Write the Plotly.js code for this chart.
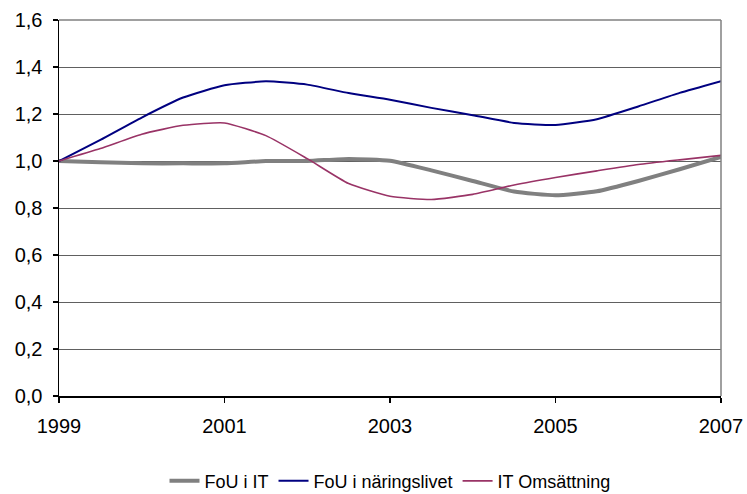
<!DOCTYPE html>
<html>
<head>
<meta charset="utf-8">
<script src="https://cdn.plot.ly/plotly-3.0.1.min.js"></script>
<style>
  html, body { margin: 0; padding: 0; background: #fff; }
  #chart { width: 747px; height: 494px; }
</style>
</head>
<body>
<div id="chart"></div>
<script>
// Index (1999 = 1,0), halvårsvärden
const ar = [1999, 1999.5, 2000, 2000.5, 2001, 2001.5, 2002, 2002.5, 2003,
            2003.5, 2004, 2004.5, 2005, 2005.5, 2006, 2006.5, 2007];

const fouIT = [1.00, 0.995, 0.99, 0.99, 0.99, 1.00, 1.00, 1.009, 1.001,
               0.96, 0.915, 0.87, 0.854, 0.871, 0.915, 0.965, 1.017];

const fouNaringsliv = [1.00, 1.09, 1.185, 1.27, 1.322, 1.339, 1.325, 1.289, 1.261,
                       1.226, 1.195, 1.162, 1.153, 1.178, 1.232, 1.29, 1.34];

const itOmsattning = [1.00, 1.053, 1.114, 1.152, 1.162, 1.108, 1.010, 0.904, 0.850,
                      0.836, 0.858, 0.898, 0.930, 0.958, 0.985, 1.005, 1.024];

const serieNamn = ["FoU i IT", "FoU i näringslivet", "IT Omsättning"];
const aretTicks = [1999, 2001, 2003, 2005, 2007];

const font = "Liberation Sans, Arial, sans-serif";

function serie(y, namn, farg, bredd) {
  return {
    type: "scatter", mode: "lines", name: namn,
    x: ar, y: y,
    line: { color: farg, width: bredd, shape: "spline", smoothing: 0.5 },
    hoverinfo: "skip",
  };
}

const data = [
  serie(fouIT, serieNamn[0], "#808080", 4),
  serie(fouNaringsliv, serieNamn[1], "#000080", 2),
  serie(itOmsattning, serieNamn[2], "#993366", 1.6),
];

const layout = {
  width: 747, height: 494,
  margin: { l: 59, r: 26, t: 20, b: 98 },
  paper_bgcolor: "#fff", plot_bgcolor: "#fff",
  separators: ",.",
  font: { family: font, size: 20, color: "#000" },
  showlegend: true,
  legend: {
    orientation: "h", xref: "paper", x: 0.5, xanchor: "center",
    yref: "container", y: 0.026, yanchor: "middle",
    font: { family: font, size: 18, color: "#000" },
    itemwidth: 30, tracegroupgap: 0,
  },
  xaxis: {
    range: [1999, 2007],
    tickvals: aretTicks,
    ticktext: aretTicks.map(String),
    ticks: "outside", ticklen: 5, tickwidth: 1.5, tickcolor: "#000",
    ticklabelstandoff: 6,
    showline: true, linecolor: "#000", linewidth: 1.5,
    showgrid: false, zeroline: false, fixedrange: true,
  },
  yaxis: {
    range: [0, 1.6], dtick: 0.2, tickformat: ".1f",
    ticks: "outside", ticklen: 5, tickwidth: 1.5, tickcolor: "#000",
    ticklabelstandoff: 6,
    showline: true, linecolor: "#000", linewidth: 1.5,
    showgrid: true, gridcolor: "#606060", gridwidth: 1,
    zeroline: false, fixedrange: true,
  },
  shapes: [
    { type: "line", xref: "paper", yref: "paper", x0: 0, x1: 1, y0: 1, y1: 1,
      line: { color: "#808080", width: 1.5 } },
    { type: "line", xref: "paper", yref: "paper", x0: 1, x1: 1, y0: 0, y1: 1,
      line: { color: "#808080", width: 1.5 } },
  ],
};

Plotly.newPlot("chart", data, layout, { staticPlot: true, displayModeBar: false });
</script>
</body>
</html>
